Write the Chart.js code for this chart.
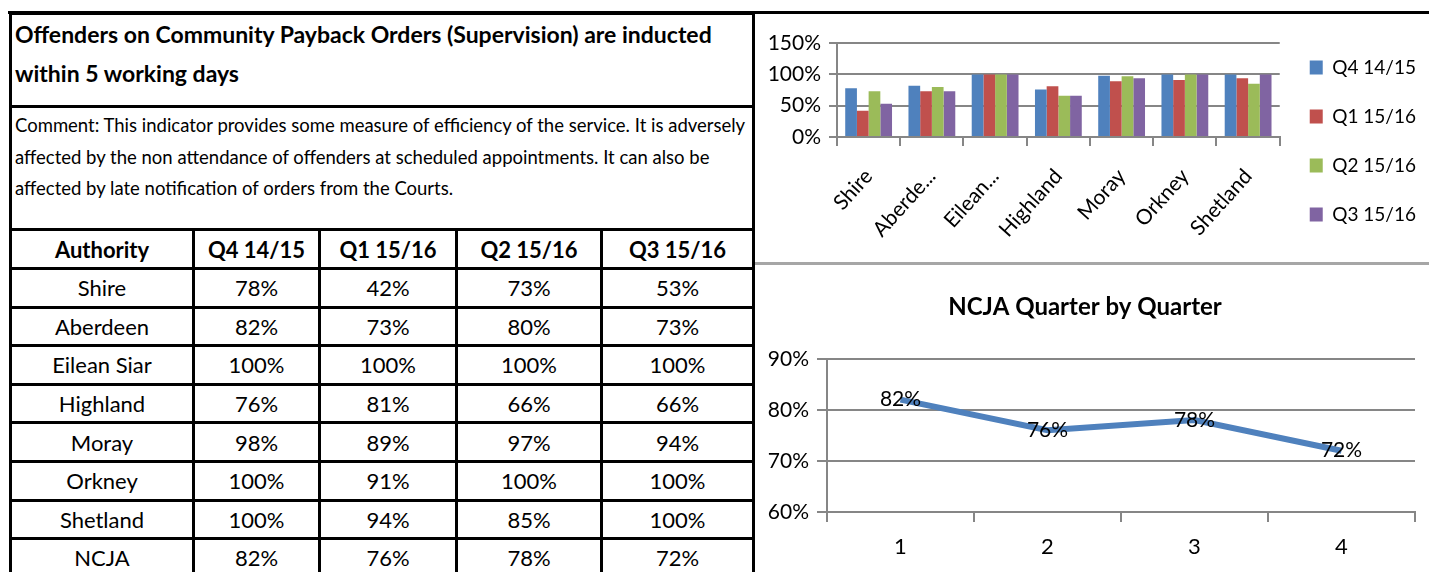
<!DOCTYPE html>
<html>
<head>
  <meta charset="UTF-8" />
  <title>Community Payback Orders - induction</title>
  <script src="https://cdn.jsdelivr.net/npm/chart.js"></script>
  <style>
    html, body { margin: 0; padding: 0; background: #fff; }
    body { width: 1429px; height: 572px; overflow: hidden; position: relative;
           font-family: Lato, "Open Sans", sans-serif; color: #000; }
    #topline { position: absolute; left: 8px; top: 11px; width: 1421px; height: 3px; background: #000; }
    #tbl { position: absolute; left: 9px; top: 12px; border-collapse: collapse; table-layout: fixed; }
    #tbl td, #tbl th { border: 3px solid #000; padding: 0; text-align: center; font-size: 22px; font-weight: normal; white-space: nowrap; }
    #tbl th { font-weight: bold; }
    #tbl .title { text-align: left; font-weight: bold; font-size: 23px; line-height: 39px; padding: 0 0 10px 3px; vertical-align: top; }
    #tbl .comment { text-align: left; font-size: 18.5px; line-height: 31.5px; padding: 2px 0 0 3px; vertical-align: top; }
    #barBox { position: absolute; left: 755px; top: 16px; width: 674px; height: 246px; }
    #lineBox { position: absolute; left: 755px; top: 266px; width: 674px; height: 306px; }
    #vline { position: absolute; left: 753px; top: 14px; width: 2px; height: 558px; background: #c8c8c8; }
    #hline { position: absolute; left: 755px; top: 262px; width: 674px; height: 3px; background: #a6a6a6; }
  </style>
</head>
<body>
  <div id="vline"></div>
  <div id="hline"></div>
  <table id="tbl">
    <colgroup>
      <col style="width:183px"><col style="width:126px"><col style="width:137px"><col style="width:145px"><col style="width:152px">
    </colgroup>
    <tbody id="tbody"></tbody>
  </table>
  <div id="topline"></div>
  <div id="barBox"><canvas id="bar"></canvas></div>
  <div id="lineBox"><canvas id="line"></canvas></div>

  <script>
    // values as shown in the source table / charts
    const authorities = ['Shire', 'Aberdeen', 'Eilean Siar', 'Highland', 'Moray', 'Orkney', 'Shetland'];
    const barLabels = ['Shire', 'Aberde...', 'Eilean...', 'Highland', 'Moray', 'Orkney', 'Shetland'];
    const quarters = ['Q4 14/15', 'Q1 15/16', 'Q2 15/16', 'Q3 15/16'];
    const q4_1415 = [78, 82, 100, 76, 98, 100, 100];
    const q1_1516 = [42, 73, 100, 81, 89, 91, 94];
    const q2_1516 = [73, 80, 100, 66, 97, 100, 85];
    const q3_1516 = [53, 73, 100, 66, 94, 100, 100];
    const ncjaLabels = ['1', '2', '3', '4'];
    const ncja = [82, 76, 78, 72];
    const colors = ['#4F81BD', '#C0504D', '#9BBB59', '#8064A2'];

    const FONT = 'Lato, "Open Sans", sans-serif';
    const GRID = '#868686';

    // table
    const tb = document.getElementById('tbody');
    let html = '<tr style="height:93px"><td colspan="5" class="title">Offenders on Community Payback Orders (Supervision) are inducted<br>within 5 working days</td></tr>';
    html += '<tr style="height:123px"><td colspan="5" class="comment">Comment: This indicator provides some measure of efficiency of the service. It is adversely<br>affected by the non attendance of offenders at scheduled appointments. It can also be<br>affected by late notification of orders from the Courts.</td></tr>';
    html += '<tr style="height:39px"><th>Authority</th>' + quarters.map(q => '<th>' + q + '</th>').join('') + '</tr>';
    const series = [q4_1415, q1_1516, q2_1516, q3_1516];
    authorities.forEach((a, i) => {
      html += '<tr style="height:38.6px"><td>' + a + '</td>' + series.map(s => '<td>' + s[i] + '%</td>').join('') + '</tr>';
    });
    html += '<tr style="height:38.6px"><td>NCJA</td>' + ncja.map(v => '<td>' + v + '%</td>').join('') + '</tr>';
    tb.innerHTML = html;

    Chart.defaults.font.family = FONT;
    Chart.defaults.color = '#000';
    Chart.defaults.animation = false;

    new Chart(document.getElementById('bar'), {
      type: 'bar',
      data: {
        labels: barLabels,
        datasets: quarters.map((q, i) => ({
          label: q, data: series[i], backgroundColor: colors[i],
          barPercentage: 1, categoryPercentage: 0.74
        }))
      },
      options: {
        responsive: true, maintainAspectRatio: false,
        layout: { padding: { top: 12, right: 3, left: 0, bottom: 0 } },
        plugins: {
          // empty spacer above the plot only, so the legend can sit higher
          title: { display: true, text: ' ', fullSize: false, font: { size: 1 }, padding: { top: 14, bottom: 0 } },
          legend: {
            position: 'right', align: 'start',
            labels: { boxWidth: 13, boxHeight: 14, padding: 30, font: { size: 19 } }
          },
          tooltip: { enabled: false }
        },
        scales: {
          y: {
            min: 0, max: 150,
            ticks: { stepSize: 50, padding: 8, font: { size: 21 }, callback: v => v + '%' },
            grid: { color: GRID, lineWidth: 2, tickLength: 8 },
            border: { color: GRID, width: 2 },
            afterFit: s => { s.width = 82; }
          },
          x: {
            ticks: { minRotation: 48, maxRotation: 48, padding: 18, font: { size: 21 } },
            grid: { drawOnChartArea: false, color: GRID, lineWidth: 2, tickLength: 9, offset: true },
            border: { color: GRID, width: 2 },
            afterFit: s => { s.height = 125; }
          }
        }
      }
    });

    const pointLabels = {
      id: 'pointLabels',
      afterDatasetsDraw(chart) {
        const ctx = chart.ctx;
        const meta = chart.getDatasetMeta(0);
        ctx.save();
        ctx.font = '21px ' + FONT;
        ctx.fillStyle = '#000';
        ctx.textAlign = 'center';
        ctx.textBaseline = 'middle';
        meta.data.forEach((pt, i) => {
          ctx.fillText(chart.data.datasets[0].data[i] + '%', pt.x, pt.y);
        });
        ctx.restore();
      }
    };

    new Chart(document.getElementById('line'), {
      type: 'line',
      data: {
        labels: ncjaLabels,
        datasets: [{
          label: 'NCJA', data: ncja, borderColor: '#4F81BD', borderWidth: 6,
          pointRadius: 0, tension: 0, fill: false
        }]
      },
      options: {
        responsive: true, maintainAspectRatio: false,
        layout: { padding: { top: 0, right: 14, left: 0, bottom: 0 } },
        plugins: {
          legend: { display: false },
          tooltip: { enabled: false },
          title: {
            display: true, text: 'NCJA Quarter by Quarter',
            font: { size: 24, weight: 'bold' }, color: '#000',
            padding: { top: 27, bottom: 37 }
          }
        },
        scales: {
          y: {
            min: 60, max: 90,
            ticks: { stepSize: 10, padding: 8, font: { size: 21 }, callback: v => v + '%' },
            grid: { color: GRID, lineWidth: 2, tickLength: 10 },
            border: { color: GRID, width: 2 },
            afterFit: s => { s.width = 72; }
          },
          x: {
            offset: true,
            ticks: { padding: 12, font: { size: 22 } },
            grid: { drawOnChartArea: false, color: GRID, lineWidth: 2, tickLength: 10, offset: true },
            border: { color: GRID, width: 2 },
            afterFit: s => { s.height = 60; }
          }
        }
      },
      plugins: [pointLabels]
    });
  </script>
</body>
</html>
